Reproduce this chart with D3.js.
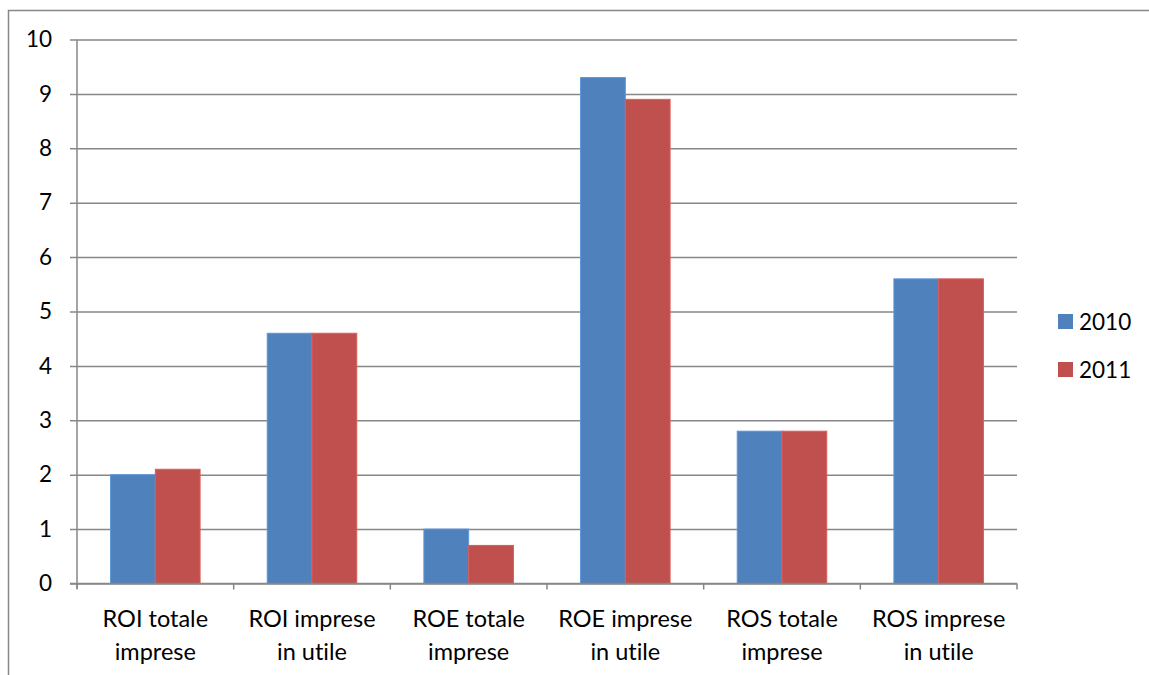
<!DOCTYPE html>
<html>
<head>
<meta charset="utf-8">
<script src="https://cdn.jsdelivr.net/npm/d3@7"></script>
<style>
  html, body { margin: 0; padding: 0; background: #fff; }
  svg { display: block; font-family: Lato, "Open Sans", sans-serif; font-variant-ligatures: none; }
</style>
</head>
<body>
<svg id="chart" width="1149" height="675"></svg>
<script>
// Category labels (two lines each) and yearly values
const categories = [
  ["ROI totale", "imprese"],
  ["ROI imprese", "in utile"],
  ["ROE totale", "imprese"],
  ["ROE imprese", "in utile"],
  ["ROS totale", "imprese"],
  ["ROS imprese", "in utile"]
];
const years = ["2010", "2011"];
const values2010 = [2.0, 4.6, 1.0, 9.3, 2.8, 5.6];
const values2011 = [2.1, 4.6, 0.7, 8.9, 2.8, 5.6];
const yTicks = [0, 1, 2, 3, 4, 5, 6, 7, 8, 9, 10];
const colors = ["#4F81BD", "#C0504D"];

const series = [values2010, values2011];
const svg = d3.select("#chart");
const gridColor = "#878787";

// outer chart frame
svg.append("rect")
  .attr("x", 8.5).attr("y", 10.5)
  .attr("width", 1200).attr("height", 800)
  .attr("fill", "none").attr("stroke", gridColor).attr("stroke-width", 1.5);

const plot = { left: 77, right: 1017, top: 39.5, bottom: 583.5 };

const x = d3.scaleBand()
  .domain(d3.range(categories.length))
  .range([plot.left, plot.right]);

const y = d3.scaleLinear()
  .domain([0, 10])
  .range([plot.bottom, plot.top]);

// horizontal gridlines with left tick marks
const yAxis = d3.axisLeft(y).tickValues(yTicks).tickSize(plot.right - plot.left + 7).tickPadding(18).tickFormat(d3.format("d"));
const gy = svg.append("g").attr("transform", `translate(${plot.right},0)`).call(yAxis);
gy.select(".domain").remove();
gy.selectAll(".tick line").attr("stroke", gridColor).attr("stroke-width", 1.5);
gy.selectAll(".tick text").attr("font-size", 22.5).attr("fill", "#000")
  .attr("font-family", "Lato, 'Open Sans', sans-serif");

// vertical axis line
svg.append("line")
  .attr("x1", plot.left).attr("x2", plot.left)
  .attr("y1", plot.top).attr("y2", plot.bottom + 5)
  .attr("stroke", gridColor).attr("stroke-width", 1.5);

// category boundary ticks
const bounds = d3.range(categories.length + 1).map(i => i < categories.length ? x(i) : plot.right);
svg.append("g").selectAll("line").data(bounds).join("line")
  .attr("x1", d => d).attr("x2", d => d)
  .attr("y1", plot.bottom).attr("y2", plot.bottom + 6)
  .attr("stroke", gridColor).attr("stroke-width", 1.5);

// bars: gap width 150% of a bar
const bw = x.bandwidth();
const barW = bw / 3.5;
const g = svg.append("g");
series.forEach((vals, s) => {
  g.selectAll(null).data(vals).join("rect")
    .attr("x", (d, i) => x(i) + bw * 0.75 / 3.5 + s * barW)
    .attr("y", d => y(d))
    .attr("width", barW)
    .attr("height", d => y(0) - y(d))
    .attr("fill", colors[s])
    .attr("stroke", d3.color(colors[s]).brighter(0.4))
    .attr("stroke-width", 1);
});

// baseline over bars
svg.append("line")
  .attr("x1", plot.left - 7).attr("x2", plot.right)
  .attr("y1", plot.bottom).attr("y2", plot.bottom)
  .attr("stroke", gridColor).attr("stroke-width", 1.5);

// category labels
const labels = svg.append("g").selectAll("text").data(categories).join("text")
  .attr("text-anchor", "middle")
  .attr("font-size", 23.5)
  .attr("fill", "#000");
labels.each(function(d, i) {
  const t = d3.select(this);
  d.forEach((line, k) => {
    t.append("tspan").attr("x", x(i) + bw / 2).attr("y", 627 + k * 33).text(line);
  });
});

// legend
const legend = svg.append("g").selectAll("g").data(years).join("g")
  .attr("transform", (d, i) => `translate(1058, ${314 + i * 48})`);
legend.append("rect").attr("width", 15).attr("height", 15).attr("fill", (d, i) => colors[i]);
legend.append("text").attr("x", 21).attr("y", 16).attr("font-size", 22.5).attr("fill", "#000").text(d => d);
</script>
</body>
</html>
